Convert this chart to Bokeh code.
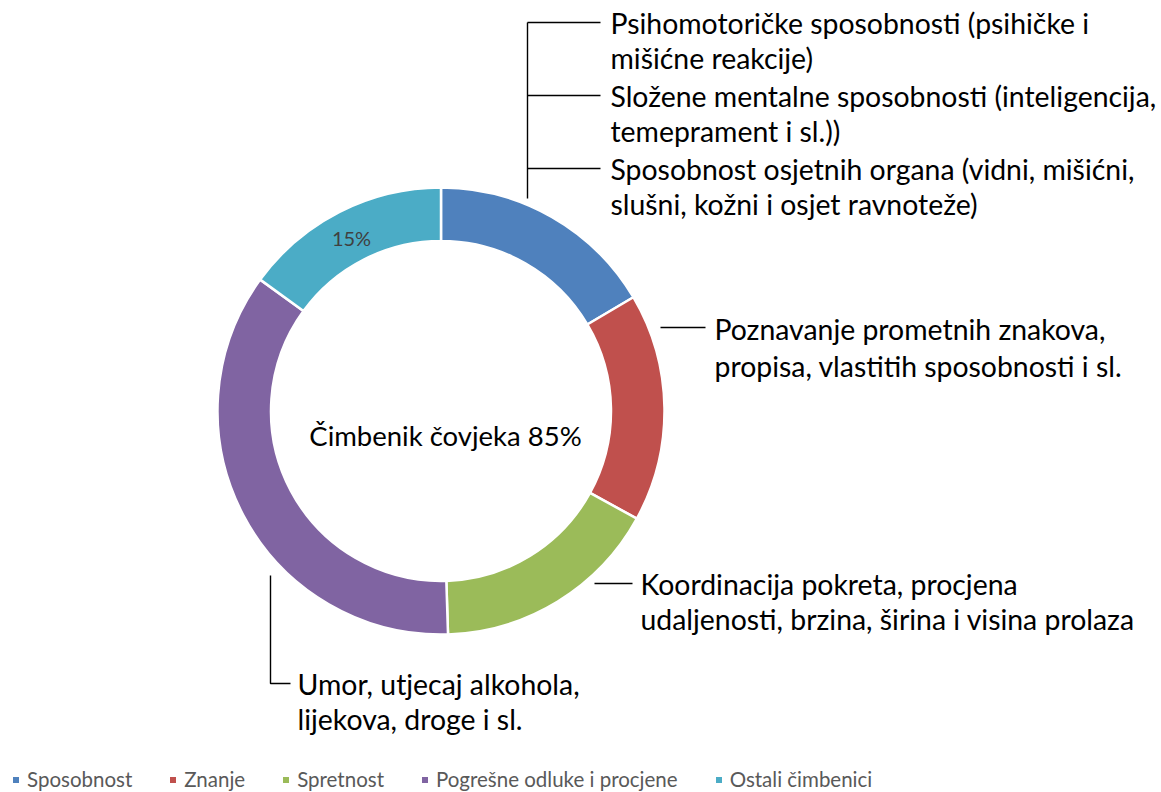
import numpy as np
from bokeh.plotting import figure
from bokeh.models import Range1d, Legend, LegendItem
from bokeh.core.properties import value
from bokeh.embed import file_html
from bokeh.resources import INLINE

# ---- data ----
categories = ["Sposobnost", "Znanje", "Spretnost", "Pogrešne odluke i procjene", "Ostali čimbenici"]
shares = [16.5, 16.5, 16.5, 35.5, 15.0]
colors = ["#4F81BD", "#C0504D", "#9BBB59", "#8064A2", "#4BACC6"]
center_label = "Čimbenik čovjeka 85%"
slice_label = "15%"

top_notes = [
    ["Psihomotoričke sposobnosti (psihičke i", "mišićne reakcije)"],
    ["Složene mentalne sposobnosti (inteligencija,", "temeprament i sl.))"],
    ["Sposobnost osjetnih organa (vidni, mišićni,", "slušni, kožni i osjet ravnoteže)"],
]
red_note = ["Poznavanje prometnih znakova,", "propisa, vlastitih sposobnosti i sl."]
green_note = ["Koordinacija pokreta, procjena", "udaljenosti, brzina, širina i visina prolaza"]
purple_note = ["Umor, utjecaj alkohola,", "lijekova, droge i sl."]

W, H = 1160, 791
FONT = "Lato"
NOTE_SIZE = "28.4px"

def Y(py):
    return 792 - py

p = figure(width=W, height=H, x_range=Range1d(0, W), y_range=Range1d(792 - H, 792),
           output_backend="svg", toolbar_location=None, min_border=0)
p.axis.visible = False
p.grid.visible = False
p.outline_line_color = None
p.background_fill_color = "white"
p.border_fill_color = "white"

cx, cy = 440.5, Y(410.5)
r_in, r_out = 170, 223.5

frac = np.array(shares) / sum(shares)
cum = np.concatenate([[0], np.cumsum(frac)])
starts = np.pi / 2 - 2 * np.pi * cum[:-1]
ends = np.pi / 2 - 2 * np.pi * cum[1:]

for i in range(len(categories)):
    p.annular_wedge(x=cx, y=cy, inner_radius=r_in, outer_radius=r_out,
                    start_angle=starts[i], end_angle=ends[i], direction="clock",
                    fill_color=colors[i], line_color="white", line_width=2.5)

# centre label
p.text(x=[445], y=[Y(435)], text=[center_label], text_align="center", text_baseline="middle",
       text_font=value(FONT), text_font_size="27.5px", text_color="#000000")
# slice label
p.text(x=[351], y=[Y(237)], text=[slice_label], text_align="center", text_baseline="middle",
       text_font=value(FONT), text_font_size="20px", text_color="#404040")

def note(lines, x, y0, dy=35):
    for k, t in enumerate(lines):
        p.text(x=[x], y=[Y(y0 + k * dy)], text=[t], text_align="left", text_baseline="middle",
               text_font=value(FONT), text_font_size=NOTE_SIZE, text_color="#000000")

LC = "#000000"
LW = 1.4
# top bracket
p.line(x=[527, 527], y=[Y(22), Y(198)], line_color=LC, line_width=LW)
for k, yy in enumerate([22, 95, 168]):
    p.line(x=[527, 600], y=[Y(yy), Y(yy)], line_color=LC, line_width=LW)
    note(top_notes[k], 610, yy)

p.line(x=[660, 705], y=[Y(327), Y(327)], line_color=LC, line_width=LW)
note(red_note, 714, 328, 37)

p.line(x=[594, 632], y=[Y(583), Y(583)], line_color=LC, line_width=LW)
note(green_note, 640, 583)

p.line(x=[270, 270, 290], y=[Y(575), Y(683), Y(683)], line_color=LC, line_width=LW)
note(purple_note, 297, 683)

# legend proxies (square markers, hidden in the plot area)
leg_renderers = []
for c in colors:
    r = p.scatter(x=[cx], y=[cy], marker="square", size=6, fill_color=c, line_color=None)
    r.visible = False
    leg_renderers.append(r)
legend = Legend(items=[LegendItem(label=c, renderers=[r]) for c, r in zip(categories, leg_renderers)],
                orientation="horizontal", location=(8, 0),
                label_text_font=FONT, label_text_font_size="20.5px", label_text_color="#595959",
                glyph_width=15, glyph_height=15, label_standoff=4, spacing=33,
                padding=0, margin=0, border_line_color=None, background_fill_alpha=0,
                label_height=20)
p.add_layout(legend, "center")

open("out.html", "w").write(file_html(p, INLINE))
